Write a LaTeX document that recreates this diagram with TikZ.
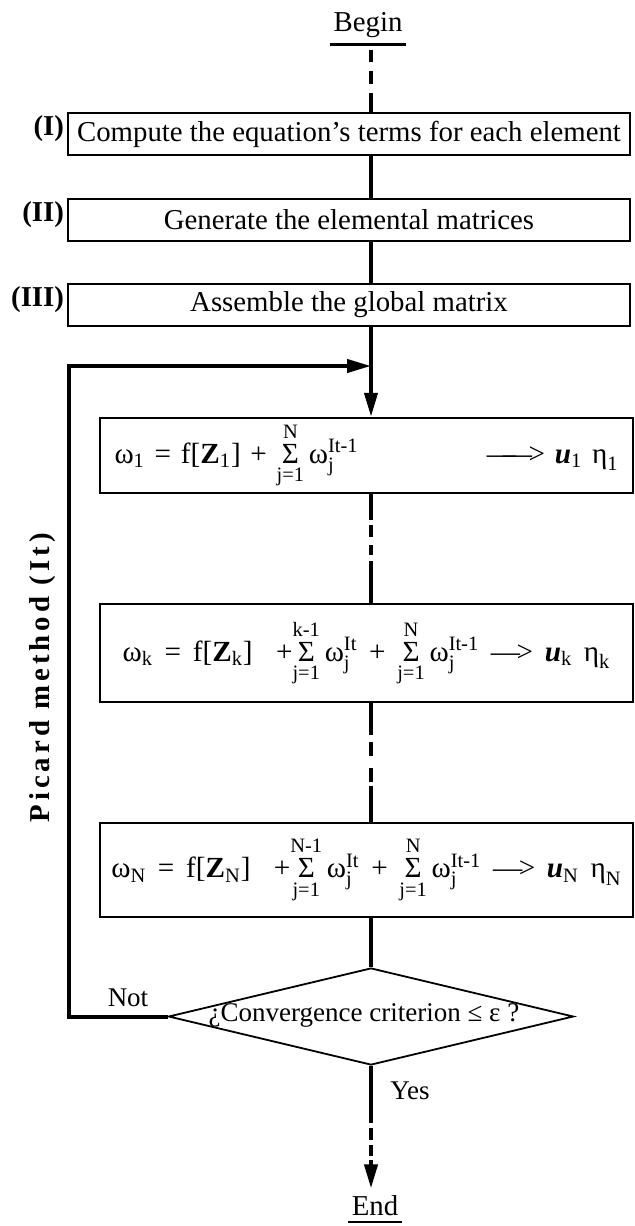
\documentclass[tikz,border=0pt]{standalone}
\usepackage{fontspec}
\setmainfont{Liberation Serif}
\newfontfamily\spacedfont[LetterSpace=14]{Liberation Serif}
\newfontfamily\eqfont[WordSpace=1.6]{Liberation Serif}
\usepackage{amsmath}
\usetikzlibrary{arrows.meta,shapes.geometric,positioning}

\newcommand{\sumj}[1]{\mathop{\text{Σ}}\limits_{\text{j=1}}^{\text{#1}}}
\newcommand{\wj}[1]{\text{ω}_{\text{j}}^{\text{#1}}}
\newcommand{\gk}[2]{$\text{#1}_{\text{#2}}$}
\newcommand{\bu}{\textbf{\textit{u}}}
\newcommand{\goesto}{\textemdash\kern-0.12em>}

\begin{document}
\begin{tikzpicture}[x=0.5pt,y=-0.5pt,line width=2pt,>={Triangle[length=12pt,width=6.5pt]},
  font=\fontsize{14.4}{17}\selectfont,
  stepbox/.style={draw,line width=1pt,minimum width=281pt,minimum height=21pt,inner sep=0pt},
  eqbox/.style={draw,line width=1.2pt,minimum width=266.5pt,inner sep=0pt,
    font=\eqfont\fontsize{14.6}{17}\selectfont},
  tag/.style={font=\fontsize{14.4}{17}\selectfont\bfseries,inner sep=0.5pt},
  underl/.style={anchor=base,inner xsep=1pt,inner ysep=2.3pt},
  small/.style={font=\fontsize{13.5}{16}\selectfont}]
  \useasboundingbox (0,0) rectangle (635,1226);
  \coordinate (spine) at (371,0);
  % inicio
  \node[underl] (begin) at (368,32) {Begin};
  \draw[line width=1.5pt] (begin.south west) -- (begin.south east);
  % pasos (I)-(III)
  \node[stepbox] (s1) at (349,134) {Compute the equation’s terms for each element};
  \node[stepbox] (s2) at (349,219.5) {Generate the elemental matrices};
  \node[stepbox] (s3) at (349,305) {Assemble the global matrix};
  \node[tag,left=0pt of s1,yshift=2.5pt] (t1) {(I)};
  \node[tag,left=0pt of s2,yshift=2.5pt] (t2) {(II)};
  \node[tag,left=0pt of s3,yshift=2.5pt] (t3) {(III)};
  % ecuaciones de Picard
  \node[eqbox,minimum height=37.5pt,text width=252pt,align=left,inner xsep=7pt] (e1) at (366.5,455.5)
    {\gk{ω}{1} = f[\gk{\textbf{Z}}{1}] + $\sumj{N}\wj{It-1}$\hfill\textemdash\kern-0.45em\goesto{} \gk{\bu}{1} \gk{η}{1}};
  \node[eqbox,minimum height=49pt] (e2) at (366.5,653)
    {\gk{ω}{k} = f[\gk{\textbf{Z}}{k}]\ \ +$\sumj{k-1}\wj{It}$ + $\sumj{N}\wj{It-1}$ \goesto{} \gk{\bu}{k} \gk{η}{k}};
  \node[eqbox,minimum height=47pt] (e3) at (366.5,870)
    {\gk{ω}{N} = f[\gk{\textbf{Z}}{N}]\ \ +$\sumj{N-1}\wj{It}$ + $\sumj{N}\wj{It-1}$ \goesto{} \gk{\bu}{N} \gk{η}{N}};
  % criterio
  \node[draw,diamond,aspect=4.17,minimum width=202.5pt,minimum height=48.5pt,inner sep=0pt,line width=0.9pt] (check) at (371,1016.5) {};
  \node[small] (crit) at (364,1015) {¿Convergence criterion ≤ ε ?};
  \node[small] (no) at (128,998) {Not};
  \node[small] (yes) at (410,1091) {Yes};
  % fin
  \node[underl] (end) at (375,1215) {End};
  \draw[line width=1pt] (end.south west) -- (end.south east);
  \node[rotate=90,font=\spacedfont\fontsize{14.4}{17}\selectfont\bfseries] (picard) at (43,678) {Picard method (It)};
  % conectores
  \draw[dash pattern=on 0pt off 2.5pt on 6pt off 4.5pt on 6.5pt off 4.5pt on 20pt] (begin.south -| spine) -- (s1.north -| spine);
  \draw (s1.south -| spine) -- (s2.north -| spine);
  \draw (s2.south -| spine) -- (s3.north -| spine);
  \draw[->] (s3.south -| spine) -- (e1.north -| spine);
  \draw[dash pattern=on 13pt off 2.5pt on 6pt off 4pt on 5pt off 3pt on 40pt] (e1.south -| spine) -- (e2.north -| spine);
  \draw[dash pattern=on 16pt off 3.5pt on 7pt off 6pt on 7pt off 2pt on 40pt] (e2.south -| spine) -- (e3.north -| spine);
  \draw (e3.south -| spine) -- (check.north);
  \draw[->,dash pattern=on 28.5pt off 2.5pt on 6pt off 2.5pt on 5.5pt off 2pt on 20pt] (check.south) -- (end.north -| check.south);
  % lazo
  \coordinate (turn) at (69,366);
  \coordinate (join) at (371,366);
  \draw[->] (check.west) -| (turn) -- (join);
\end{tikzpicture}
\end{document}
